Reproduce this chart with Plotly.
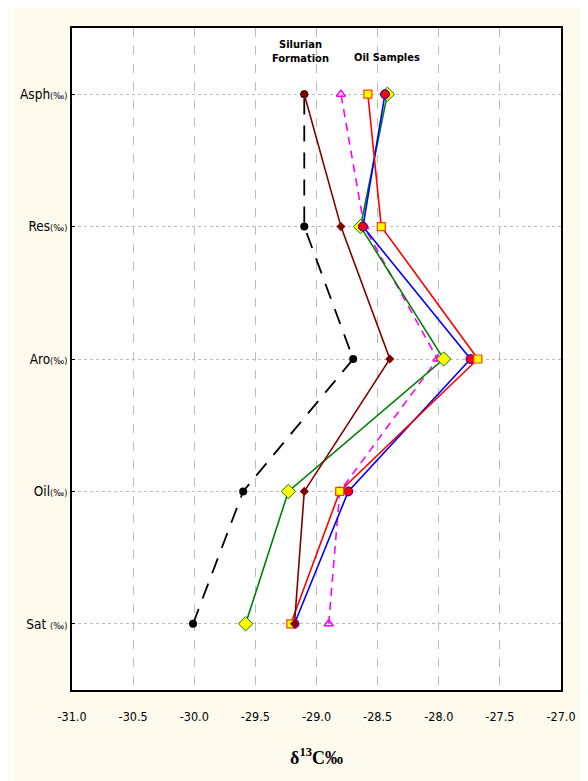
import plotly.graph_objects as go

categories = ["Sat", "Oil", "Aro", "Res", "Asph"]
tick_labels = ["Sat <span style='font-size:9px'>(‰)</span>",
               "Oil<span style='font-size:9px'>(‰)</span>",
               "Aro<span style='font-size:9px'>(‰)</span>",
               "Res<span style='font-size:9px'>(‰)</span>",
               "Asph<span style='font-size:9px'>(‰)</span>"]

silurian_black = [-30.01, -29.60, -28.70, -29.10, -29.10]
silurian_darkred = [-29.18, -29.10, -28.40, -28.80, -29.10]
oil_magenta = [-28.90, -28.81, -28.01, -28.61, -28.80]
oil_red = [-29.21, -28.81, -27.68, -28.47, -28.58]
oil_blue = [-29.18, -28.74, -27.74, -28.62, -28.44]
oil_green = [-29.58, -29.23, -27.96, -28.64, -28.42]

x_ticks = [-31.0, -30.5, -30.0, -29.5, -29.0, -28.5, -28.0, -27.5, -27.0]

fig = go.Figure()
ypos = list(range(len(categories)))

fig.add_trace(go.Scatter(x=silurian_black, y=ypos, mode="lines+markers",
                         line=dict(color="black", width=1.8, dash="16px,11px"),
                         marker=dict(symbol="circle", size=8, color="black")))
fig.add_trace(go.Scatter(x=oil_magenta, y=ypos, mode="lines+markers",
                         line=dict(color="#FF00FF", width=1.6, dash="8px,6px"),
                         marker=dict(symbol="triangle-up-open", size=8, color="#FF00FF",
                                     line=dict(width=1.5))))
fig.add_trace(go.Scatter(x=oil_green, y=ypos, mode="lines+markers",
                         line=dict(color="#008000", width=1.6),
                         marker=dict(symbol="diamond", size=11, color="#FFFF00",
                                     line=dict(color="#008000", width=1))))
fig.add_trace(go.Scatter(x=oil_blue, y=ypos, mode="lines+markers",
                         line=dict(color="#0000FF", width=1.6),
                         marker=dict(symbol="circle", size=9, color="#FF0000",
                                     line=dict(color="#0000FF", width=1))))
fig.add_trace(go.Scatter(x=oil_red, y=ypos, mode="lines+markers",
                         line=dict(color="#FF0000", width=1.6),
                         marker=dict(symbol="square", size=8, color="#FFFF00",
                                     line=dict(color="#FF4000", width=1.2))))
fig.add_trace(go.Scatter(x=silurian_darkred, y=ypos, mode="lines+markers",
                         line=dict(color="#800000", width=1.6),
                         marker=dict(symbol="diamond", size=7, color="#800000")))

font_narrow = "DejaVu Sans Condensed, Liberation Sans Narrow, Arial Narrow, sans-serif"
cream = "#FFFAEE"

W, H = 580, 773
L, R, T, B = 63, 18, 20, 91
pw = W - L - R
ph = H - T - B

fig.update_layout(
    width=W, height=H,
    margin=dict(l=L, r=R, t=T, b=B),
    paper_bgcolor=cream,
    plot_bgcolor="white",
    showlegend=False,
    font=dict(family=font_narrow, size=12, color="black"),
    xaxis=dict(range=[-31, -27], tickvals=x_ticks,
               ticktext=[f"{v:.1f}" for v in x_ticks],
               tickfont=dict(size=12.5),
               showgrid=True, gridcolor="#BBBBBB", griddash="dash", gridwidth=1,
               showline=True, linecolor="black", linewidth=2, mirror=True,
               ticks="", zeroline=False, ticklabelstandoff=14,
               title=dict(text="<b>δ<sup>13</sup>C‰</b>",
                          font=dict(family="Liberation Serif, Times New Roman, serif",
                                    size=18, color="black"),
                          standoff=28)),
    yaxis=dict(range=[-0.5, 4.5], tickvals=ypos, ticktext=tick_labels,
               tickfont=dict(size=13.5),
               showgrid=True, gridcolor="#BBBBBB", griddash="dot", gridwidth=1,
               showline=True, linecolor="black", linewidth=2, mirror=True,
               ticks="inside", ticklen=3, tickcolor="black", zeroline=False),
    shapes=[dict(type="rect", xref="paper", yref="paper",
                 x0=-L / pw, x1=(3 - L) / pw, y0=-B / ph, y1=(ph + T) / ph,
                 fillcolor="white", line=dict(width=0), layer="below")],
    annotations=[
        dict(x=-29.13, y=1.0, xref="x", yref="paper", text="<b>Silurian<br>Formation</b>",
             showarrow=False, yanchor="top", yshift=-8,
             font=dict(family=font_narrow, size=11, color="black")),
        dict(x=-28.42, y=1.0, xref="x", yref="paper", text="<b>Oil Samples</b>",
             showarrow=False, yanchor="top", yshift=-21,
             font=dict(family=font_narrow, size=11, color="black")),
    ],
)

fig.write_html("out.html")
